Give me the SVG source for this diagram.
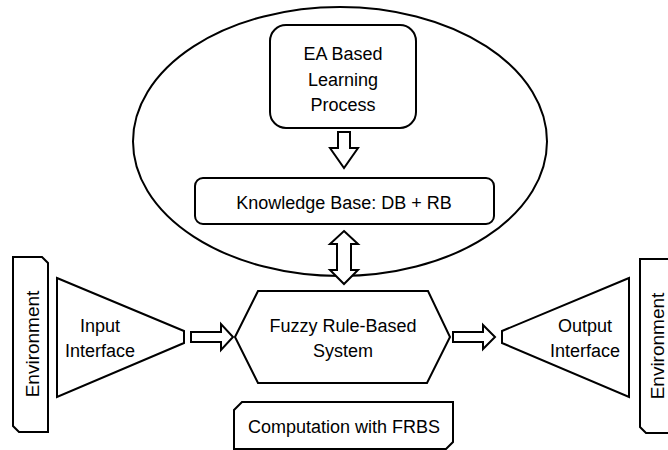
<svg xmlns="http://www.w3.org/2000/svg" width="668" height="450" viewBox="0 0 668 450">
<style>
.s{fill:#fff;stroke:#000;stroke-width:2;stroke-linejoin:miter}
.r{fill:#fff;stroke:#000;stroke-width:2}
.a{fill:#fff;stroke:#000;stroke-width:2;stroke-linejoin:miter}
text{font-family:"Liberation Sans",Arial,sans-serif;font-size:18px;fill:#000;text-anchor:middle}
.v{font-size:19px}
</style>
<rect width="668" height="450" fill="#fff"/>
<g id="learning-area">
<ellipse class="s" cx="340" cy="141.5" rx="207" ry="134.5"/>
</g>
<g id="ea-learning">
<rect class="r" x="270" y="25" width="146" height="103" rx="16" ry="16"/>
<text x="343" y="60">EA Based</text>
<text x="343" y="86">Learning</text>
<text x="343" y="111">Process</text>
</g>
<g id="knowledge-base">
<rect class="r" x="195" y="178" width="299" height="46" rx="8" ry="8"/>
<text x="344" y="209">Knowledge Base: DB + RB</text>
</g>
<g id="frbs">
<polygon class="s" points="235,337 258,291 428,291 450,337 427,383 258,383"/>
<text x="343" y="332">Fuzzy Rule-Based</text>
<text x="343" y="357">System</text>
</g>
<g id="input-interface">
<polygon class="s" points="57,278 184,331 184,343 57,397"/>
<text x="100" y="332">Input</text>
<text x="100" y="357">Interface</text>
</g>
<g id="output-interface">
<polygon class="s" points="629,278 502,331 502,343 629,397"/>
<text x="585" y="332">Output</text>
<text x="585" y="357">Interface</text>
</g>
<g id="env-left">
<polygon class="s" points="13,257 42,257 48,263 48,432 19,432 13,426"/>
<text class="v" x="32" y="344" dominant-baseline="central" transform="rotate(-90 32 344)">Environment</text>
</g>
<g id="env-right">
<polygon class="s" points="640,259 675,259 675,433 646,433 640,427"/>
<text class="v" x="657" y="346" dominant-baseline="central" transform="rotate(-90 657 346)">Environment</text>
</g>
<g id="computation">
<polygon class="s" points="234,410 242,402 453,402 453,442 446,449 234,449"/>
<text x="344" y="433">Computation with FRBS</text>
</g>
<g id="connectors">
<polygon class="a" points="338,132 350,132 350,148 358,148 344,168 330,148 338,148"/>
<polygon class="a" points="344,231 358,244 351,244 351,270 358,270 344,284 330,270 337,270 337,244 330,244"/>
<polygon class="a" points="191,332 221,332 221,324 233,337 221,350 221,342 191,342"/>
<polygon class="a" points="453,332 483,332 483,325 495,337 483,349 483,342 453,342"/>
</g>
</svg>
